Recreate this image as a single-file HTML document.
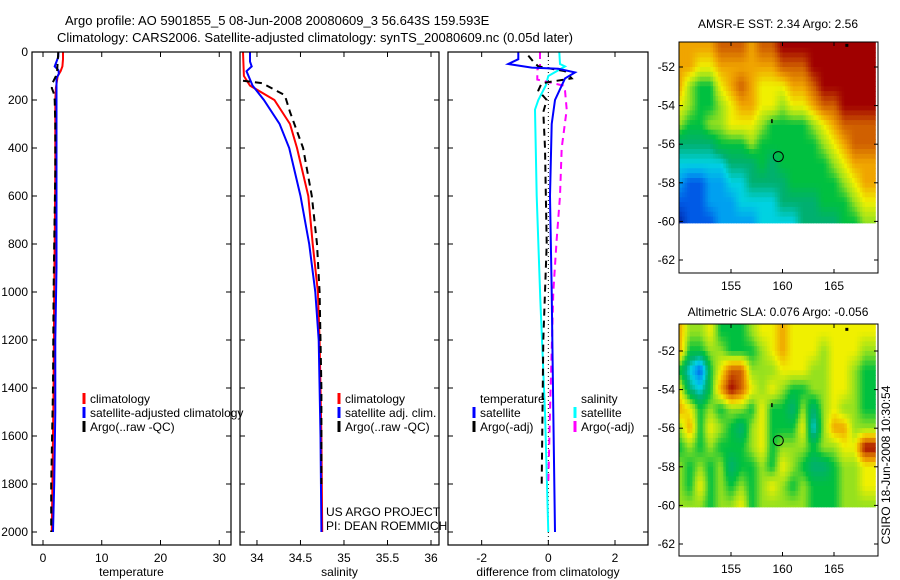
<!DOCTYPE html>
<html><head><meta charset="utf-8"><style>
body{margin:0;background:#fff}
svg{display:block;font-family:"Liberation Sans",sans-serif}
</style></head><body>
<svg id="chart" width="900" height="580" xmlns="http://www.w3.org/2000/svg">
<text x="65" y="25" font-size="13">Argo profile: AO 5901855_5 08-Jun-2008 20080609_3 56.643S 159.593E</text>
<text x="57" y="42" font-size="13">Climatology: CARS2006. Satellite-adjusted climatology: synTS_20080609.nc (0.05d later)</text>
<text x="778" y="28" font-size="12" text-anchor="middle">AMSR-E SST: 2.34 Argo: 2.56</text>
<text x="778" y="316" font-size="12" text-anchor="middle">Altimetric SLA: 0.076 Argo: -0.056</text>
<text transform="translate(890,465) rotate(-90)" font-size="12" text-anchor="middle">CSIRO 18-Jun-2008 10:30:54</text>
</svg>
<script>
// ---- data ----
const depthTicks=[0,200,400,600,800,1000,1200,1400,1600,1800,2000];
const tempTicks=[0,10,20,30];
const salTicks=[34,34.5,35,35.5,36];
const salTickLabels=["34","34.5","35","35.5","36"];
const diffTicks=[-2,0,2];
const climTempDepth=[0,30,60,80,100,150,200,300,500,800,1000,1400,1800,2000];
const climTempVal=[3.4,3.4,3.3,3.0,2.5,2.2,2.1,2.1,2.1,2.0,1.9,1.8,1.6,1.5];
const satTempDepth=[0,20,40,60,75,90,110,140,200,400,600,900,1200,1500,1800,2000];
const satTempVal=[2.6,2.6,2.3,2.0,2.6,2.7,2.3,2.3,2.3,2.3,2.3,2.3,2.1,2.1,1.9,1.7];
const argoTempDepth=[0,40,80,100,130,150,170,200,300,500,800,1000,1400,1800,2000];
const argoTempVal=[2.6,2.5,2.4,2.2,1.6,1.5,1.8,2.0,2.1,2.1,1.9,1.8,1.7,1.4,1.4];
const climSalDepth=[0,100,140,200,300,400,600,800,1000,1200,1600,2000];
const climSalVal=[33.84,33.85,33.92,34.2,34.38,34.46,34.59,34.64,34.70,34.72,34.74,34.75];
const satSalDepth=[0,40,60,80,140,200,300,400,600,800,1000,1200,1600,2000];
const satSalVal=[33.92,33.92,33.94,33.88,33.95,34.08,34.26,34.37,34.5,34.6,34.67,34.71,34.73,34.74];
const argoSalDepth=[120,130,180,250,400,600,800,1000,1400,1800];
const argoSalVal=[33.84,34.06,34.32,34.38,34.53,34.63,34.69,34.72,34.74,34.74];
const dTempSatDepth=[0,30,50,65,70,85,110,140,200,300,600,1000,1500,2000];
const dTempSatVal=[-0.9,-0.9,-1.2,-0.5,0.3,0.8,0.5,0.4,0.2,0.1,0.05,0.1,0.15,0.2];
const dSalSatDepth=[0,50,60,100,140,200,240,600,1030,1500,2000];
const dSalSatVal=[0.33,0.35,0.5,0.0,-0.08,-0.3,-0.4,-0.35,-0.24,-0.1,0.0];
const dTempArgoDepth=[15,40,60,80,110,130,160,200,250,400,800,1200,1800];
const dTempArgoVal=[-0.6,-0.45,-0.3,0.5,0.7,-0.2,-0.3,-0.05,-0.15,-0.1,-0.05,-0.15,-0.2];
const dSalArgoDepth=[0,55,75,115,140,160,240,400,600,780,1000,1500,1800];
const dSalArgoVal=[-0.25,-0.25,-0.33,-0.33,0.45,0.5,0.55,0.4,0.35,0.25,0.15,0.05,0.0];
const mapLons=[150,151,152,153,154,155,156,157,158,159,160,161,162,163,164,165,166,167,168];
const mapLats=[-51,-52,-53,-54,-55,-56,-57,-58,-59,-60];
const lonTicks=[155,160,165];
const latTicks=[-52,-54,-56,-58,-60,-62];
const sstGrid=[
[8,8,8,8,9,9,9,8,9,9,10,10,10,10,10,10,10,10,10],
[8,8,7,7,8,8,8,8,8,8,9,9,9,10,10,10,10,10,10],
[8,6,5,5,7,8,9,8,7,7,7,8,8,9,10,10,10,10,10],
[7,6,5,5,6,7,8,8,7,7,6,7,7,8,9,9,10,10,10],
[6,5,5,6,6,7,7,7,6,5,5,5,5,6,7,8,9,9,9],
[4,4,4,4,5,5,5,6,5,5,5,5,5,5,6,7,8,9,9],
[3,3,3,3,3,4,4,4,5,4,5,5,5,5,5,6,7,8,8],
[2,1,1,2,2,3,3,4,4,4,4,5,5,5,5,5,6,7,8],
[1,1,1,2,2,2,3,3,3,3,4,4,4,4,5,5,5,6,7],
[0,1,1,1,2,2,2,2,3,3,3,3,4,4,4,4,5,5,6]];
const slaGrid=[
[8,6,6,7,5,5,5,6,7,7,8,7,7,7,7,7,7,7,7],
[8,5,5,6,6,5,5,5,6,7,8,7,7,7,6,7,7,7,6],
[5,3,1,5,7,9,9,6,6,6,7,7,7,6,6,7,7,6,5],
[7,4,3,5,8,10,9,7,6,7,6,5,5,6,6,7,7,6,5],
[8,7,5,6,5,6,6,5,7,5,5,4,6,4,6,7,6,6,5],
[6,8,5,7,6,5,4,6,7,5,5,5,7,3,6,8,8,6,6],
[5,6,5,6,5,5,5,6,7,5,6,6,6,5,6,6,7,7,10],
[6,5,6,5,6,4,5,5,6,5,7,6,5,4,4,5,6,6,7],
[6,5,7,5,6,5,6,5,6,7,6,5,6,5,5,5,6,6,7],
[6,6,6,5,6,6,7,5,6,6,6,6,6,5,5,5,6,6,6]];
const floatLon=159.593, floatLat=-56.643;
const cmap=[[0,40,170],[0,90,230],[0,160,240],[0,210,225],[0,176,112],[0,192,64],[150,225,30],[240,240,0],[240,165,0],[208,96,0],[160,0,0]];

const NS="http://www.w3.org/2000/svg";
const svg=document.getElementById('chart');
function mk(tag,attrs,parent){const e=document.createElementNS(NS,tag);for(const k in attrs)e.setAttribute(k,attrs[k]);(parent||svg).appendChild(e);return e;}
function txt(x,y,s,size,anchor,parent){const t=mk('text',{x:x,y:y,'font-size':size,'text-anchor':anchor||'start'},parent);t.textContent=s;return t;}

const Y0=52, YS=0.24;
function yD(d){return Y0+d*YS;}
const TOP=52,BOT=545;

function panel(name,x0,x1,vmin,vmax,ticks,labels,xlabel){
  const g=mk('g',{});
  
  
  const sx=v=>x0+(v-vmin)/(vmax-vmin)*(x1-x0);
  ticks.forEach((t,i)=>{const x=sx(t);
    mk('line',{x1:x,x2:x,y1:BOT,y2:BOT-5,stroke:'#000'},g);
    mk('line',{x1:x,x2:x,y1:TOP,y2:TOP+5,stroke:'#000'},g);
    const l=txt(x,562,labels[i],12,'middle',g);
    
    });
  depthTicks.forEach(d=>{const y=yD(d);
    mk('line',{x1:x0,x2:x0+5,y1:y,y2:y,stroke:'#000'},g);
    mk('line',{x1:x1,x2:x1-5,y1:y,y2:y,stroke:'#000'},g);});
  const xl=txt((x0+x1)/2,576,xlabel,12,'middle',g);
  
  
  return {g,sx,x0,x1};
}
function line(p,depths,vals,color,dash,name,w){
  const pts=depths.map((d,i)=>p.sx(vals[i]).toFixed(1)+','+yD(d).toFixed(1)).join(' ');
  const e=mk('polyline',{points:pts,fill:'none',stroke:color,'stroke-width':w||2,'stroke-dasharray':dash||'none'},p.g);
  
  
}
function frame(p){mk('rect',{x:p.x0,y:TOP,width:p.x1-p.x0,height:BOT-TOP,fill:'none',stroke:'#000','stroke-width':1.2},p.g);}

const pT=panel('temperature',32,231,-1.87,32.0,tempTicks,tempTicks.map(String),'temperature');
line(pT,climTempDepth,climTempVal,'#ff0000',null,'temp-climatology-line');
line(pT,satTempDepth,satTempVal,'#0000ff',null,'temp-satellite-line');
line(pT,argoTempDepth,argoTempVal,'#000',"7,5",'temp-argo-line');
frame(pT);
depthTicks.forEach(d=>{const l=txt(28,yD(d)+4,String(d),12,'end');
  
  });

const pS=panel('salinity',240,439,33.805,36.092,salTicks,salTickLabels,'salinity');
line(pS,climSalDepth,climSalVal,'#ff0000',null,'sal-climatology-line');
line(pS,satSalDepth,satSalVal,'#0000ff',null,'sal-satellite-line');
line(pS,argoSalDepth,argoSalVal,'#000',"7,5",'sal-argo-line');
frame(pS);

const pD=panel('difference',448,648,-3.01,2.99,diffTicks,diffTicks.map(String),'difference from climatology');
mk('line',{x1:pD.sx(0),x2:pD.sx(0),y1:TOP,y2:BOT,stroke:'#000','stroke-dasharray':'1,3'},pD.g);
line(pD,dSalSatDepth,dSalSatVal,'#00ffff',null,'diff-sal-satellite-line');
line(pD,dSalArgoDepth,dSalArgoVal,'#ff00ff',"7,5",'diff-sal-argo-line');
line(pD,dTempArgoDepth,dTempArgoVal,'#000',"7,5",'diff-temp-argo-line');
line(pD,dTempSatDepth,dTempSatVal,'#0000ff',null,'diff-temp-satellite-line');
frame(pD);

function legend(x,y,items,name){
  const g=mk('g',{});
  
  
  items.forEach((it,i)=>{const yy=y+i*14;
    if(it[1])mk('line',{x1:x,x2:x,y1:yy-10,y2:yy+1,stroke:it[1],'stroke-width':3},g);
    txt(x+6,yy,it[0],12,'start',g);});
}
legend(84,403,[["climatology","#ff0000"],["satellite-adjusted climatology","#0000ff"],["Argo(..raw -QC)","#000"]],'temperature-legend');
legend(339,403,[["climatology","#ff0000"],["satellite adj. clim.","#0000ff"],["Argo(..raw -QC)","#000"]],'salinity-legend');
legend(474,403,[["temperature",null],["satellite","#0000ff"],["Argo(-adj)","#000"]],'diff-temp-legend');
legend(575,403,[["salinity",null],["satellite","#00ffff"],["Argo(-adj)","#ff00ff"]],'diff-sal-legend');
const w1=txt(326,516,'US ARGO PROJECT',12,'start');


const w2=txt(326,530,'PI: DEAN ROEMMICH',12,'start');



function colorOf(v){v=Math.max(0,Math.min(10,v));const i=Math.min(9,Math.floor(v)),f=v-i;
  const a=cmap[i],b=cmap[i+1];return 'rgb('+a.map((c,k)=>Math.round(c+(b[k]-c)*f)).join(',')+')';}
function sample(grid,r,c){
  const r0=Math.max(0,Math.min(grid.length-1,Math.floor(r))),r1=Math.min(grid.length-1,r0+1);
  const c0=Math.max(0,Math.min(grid[0].length-1,Math.floor(c))),c1=Math.min(grid[0].length-1,c0+1);
  const fr=Math.max(0,Math.min(1,r-r0)),fc=Math.max(0,Math.min(1,c-c0));
  const top=grid[r0][c0]*(1-fc)+grid[r0][c1]*fc, bot=grid[r1][c0]*(1-fc)+grid[r1][c1]*fc;
  return top*(1-fr)+bot*fr;
}
function map(name,top,bottom,grid,latAt52){
  const g=mk('g',{});
  
  
  const x0=679,x1=878;
  const sx=lon=>731+(lon-155)*10.3;
  const sy=lat=>latAt52+(-52-lat)*19.3;
  const clipId=name+'-clip';
  const cp=mk('clipPath',{id:clipId},g);
  mk('rect',{x:x0,y:top,width:x1-x0,height:sy(-60.1)-top},cp);
  const cg=mk('g',{'clip-path':'url(#'+clipId+')'},g);
  const step=0.25;
  for(let lat=mapLats[0]+0.5;lat>mapLats[mapLats.length-1]-0.5;lat-=step){
    for(let lon=mapLons[0]-0.5;lon<mapLons[mapLons.length-1]+1;lon+=step){
      const r=(mapLats[0]-(lat-step/2)), c=(lon+step/2-mapLons[0]);
      const v=sample(grid,r,c);
      const cell=mk('rect',{x:sx(lon).toFixed(1),y:sy(lat).toFixed(1),width:(step*10.3+0.6).toFixed(1),height:(step*19.3+0.6).toFixed(1),fill:colorOf(v)},cg);
      
      
    }
  }
  lonTicks.forEach(l=>{const x=sx(l);
    mk('line',{x1:x,x2:x,y1:bottom,y2:bottom-4,stroke:'#000'},g);
    mk('line',{x1:x,x2:x,y1:top,y2:top+4,stroke:'#000'},g);
    txt(x,bottom+17,String(l),12,'middle',g);});
  latTicks.forEach(l=>{const y=sy(l);
    mk('line',{x1:x0,x2:x0+4,y1:y,y2:y,stroke:'#000'},g);
    mk('line',{x1:x1,x2:x1-4,y1:y,y2:y,stroke:'#000'},g);
    txt(x0-4,y+4,String(l),12,'end',g);});
  const m=mk('circle',{cx:sx(floatLon),cy:sy(floatLat),r:5,fill:'none',stroke:'#000','stroke-width':1},g);
  
  
  mk('rect',{x:sx(158.9),y:sy(-54.7),width:1.5,height:4,fill:'#000'},g);
  mk('rect',{x:sx(166.1),y:sy(-50.8),width:3,height:3,fill:'#000'},g);
  mk('rect',{x:x0,y:top,width:x1-x0,height:bottom-top,fill:'none',stroke:'#000'},g);
}
map('sst-map',42,273,sstGrid,67);
map('sla-map',324,556,slaGrid,351);
</script>
</body></html>
